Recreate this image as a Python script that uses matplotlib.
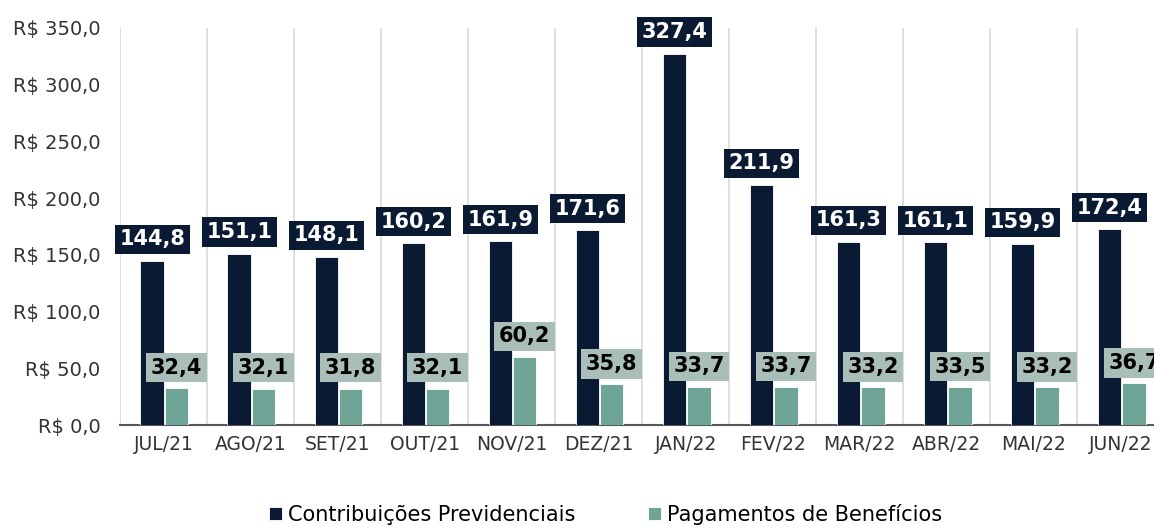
import matplotlib.pyplot as plt
import numpy as np

meses = ["JUL/21", "AGO/21", "SET/21", "OUT/21", "NOV/21", "DEZ/21",
         "JAN/22", "FEV/22", "MAR/22", "ABR/22", "MAI/22", "JUN/22"]
contribuicoes = [144.8, 151.1, 148.1, 160.2, 161.9, 171.6,
                 327.4, 211.9, 161.3, 161.1, 159.9, 172.4]
beneficios = [32.4, 32.1, 31.8, 32.1, 60.2, 35.8,
              33.7, 33.7, 33.2, 33.5, 33.2, 36.7]

cor_contrib = "#0b1a33"
cor_benef = "#6fa597"
cor_caixa_benef = "#a9bdb9"


def fmt(v):
    return f"{v:.1f}".replace(".", ",")


fig = plt.figure(figsize=(11.54, 5.28), dpi=100)
ax = fig.add_axes([0.104, 0.195, 0.905, 0.752])

x = np.arange(len(meses))
w = 0.27
ax.bar(x - 0.13, contribuicoes, w, color=cor_contrib, label="Contribuições Previdenciais",
       edgecolor="white", linewidth=0.6, zorder=3)
ax.bar(x + 0.15, beneficios, w, color=cor_benef, label="Pagamentos de Benefícios",
       edgecolor="white", linewidth=0.6, zorder=3)

# rótulos de dados
for i, v in enumerate(contribuicoes):
    ax.text(x[i] - 0.13, v + 19, fmt(v), ha="center", va="center", fontsize=15,
            fontweight="bold", color="white", zorder=5,
            bbox=dict(boxstyle="square,pad=0.22", fc=cor_contrib, ec="none"))
for i, v in enumerate(beneficios):
    ax.text(x[i] + 0.15, max(v + 18, 50.5), fmt(v), ha="center", va="center", fontsize=15,
            fontweight="bold", color="black", zorder=5,
            bbox=dict(boxstyle="square,pad=0.22", fc=cor_caixa_benef, ec="none"))

ax.set_xlim(-0.5, len(meses) - 0.5)
ax.set_ylim(0, 350)
ax.set_yticks(np.arange(0, 351, 50))
ax.set_yticklabels([f"R$ {fmt(t)}" for t in np.arange(0, 351, 50)], fontsize=14, color="#333333")
ax.set_xticks(x)
ax.set_xticklabels(meses, fontsize=13.5, color="#333333")
ax.set_xticks(np.arange(-0.5, len(meses), 1), minor=True)
ax.grid(False)
ax.grid(True, which="minor", axis="x", color="#d9d9d9", linewidth=1.2, zorder=0)
ax.tick_params(axis="both", which="both", length=0)
ax.tick_params(axis="x", pad=7)
ax.tick_params(axis="y", pad=14)
for s in ["top", "right", "left"]:
    ax.spines[s].set_visible(False)
ax.spines["bottom"].set_color("#595959")
ax.spines["bottom"].set_linewidth(1.5)

fig.legend(loc="lower center", bbox_to_anchor=(0.525, -0.03), ncol=2, frameon=False,
           fontsize=15, handlelength=0.6, handleheight=0.6, handletextpad=0.3,
           columnspacing=3.5)

plt.savefig("out.png", dpi=100)
